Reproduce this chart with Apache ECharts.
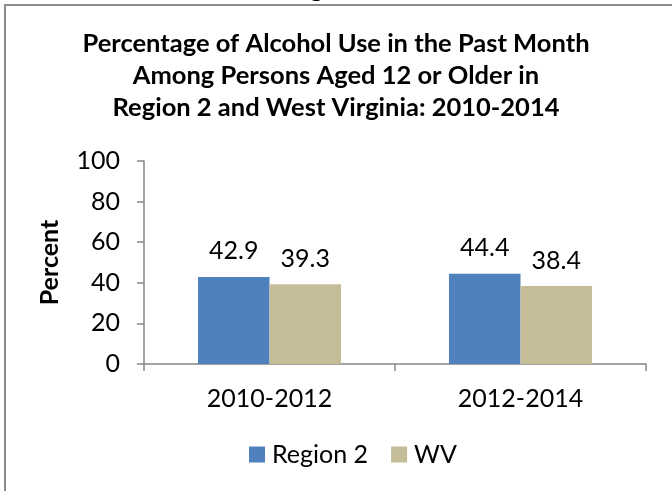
<!DOCTYPE html>
<html>
<head>
<meta charset="utf-8">
<script src="https://cdn.jsdelivr.net/npm/echarts@6/dist/echarts.min.js"></script>
<style>
  html, body { margin: 0; padding: 0; background: #fff; }
  #chart { width: 672px; height: 491px; }
</style>
</head>
<body>
<div id="chart"></div>
<script>
// data
const categories = ['2010-2012', '2012-2014'];
const region2 = [42.9, 44.4];
const wv = [39.3, 38.4];
const seriesNames = ['Region 2', 'WV'];
const titleLines = [
    'Percentage of Alcohol Use in the Past Month',
    'Among Persons Aged 12 or Older in',
    'Region 2 and West Virginia: 2010-2014'
];

const FONT = 'Lato, "Open Sans", sans-serif';
const axisGray = '#868686';

const chart = echarts.init(document.getElementById('chart'));

const barLabel = {
    show: true,
    position: 'top',
    distance: 13,
    color: '#000',
    fontFamily: FONT,
    fontSize: 25
};

chart.setOption({
    animation: false,
    backgroundColor: '#fff',
    title: {
        text: titleLines.join('\n'),
        left: 'center',
        top: 23,
        textStyle: {
            fontFamily: FONT,
            fontWeight: 'bold',
            fontSize: 25.5,
            lineHeight: 32,
            color: '#000'
        }
    },
    legend: {
        data: seriesNames,
        left: 244,
        top: 437,
        icon: 'rect',
        itemWidth: 16,
        itemHeight: 16,
        itemGap: 23,
        textStyle: { fontFamily: FONT, fontSize: 25, color: '#000', padding: [0, 0, 0, 2] }
    },
    grid: { left: 144, right: 26, top: 161, bottom: 127 },
    xAxis: {
        type: 'category',
        data: categories,
        axisLine: { lineStyle: { color: axisGray, width: 1.5 } },
        axisTick: { show: true, length: 7, lineStyle: { color: axisGray, width: 1.5 } },
        axisLabel: { color: '#000', fontFamily: FONT, fontSize: 25, margin: 22 }
    },
    yAxis: {
        type: 'value',
        min: 0,
        max: 100,
        interval: 20,
        name: 'Percent',
        nameLocation: 'middle',
        nameGap: 82,
        nameTextStyle: { fontFamily: FONT, fontWeight: 'bold', fontSize: 25, color: '#000' },
        axisLine: { show: true, lineStyle: { color: axisGray, width: 1.5 } },
        axisTick: { show: true, length: 7, lineStyle: { color: axisGray, width: 1.5 } },
        axisLabel: { color: '#000', fontFamily: FONT, fontSize: 25, margin: 24 },
        splitLine: { show: false }
    },
    series: [
        {
            name: seriesNames[0],
            type: 'bar',
            data: region2,
            barGap: '0%',
            barCategoryGap: '43%',
            itemStyle: { color: '#4F81BD' },
            label: barLabel
        },
        {
            name: seriesNames[1],
            type: 'bar',
            data: wv,
            itemStyle: { color: '#C4BD97' },
            label: barLabel
        }
    ],
    graphic: [
        {
            type: 'rect',
            shape: { x: 5, y: 5, width: 900, height: 700 },
            style: { fill: 'none', stroke: '#8a8a8a', lineWidth: 2 }
        },
        {
            // heading above the chart frame, cut off by the crop
            type: 'text',
            x: 330,
            y: 1,
            style: {
                text: 'Region 2',
                fontFamily: FONT,
                fontWeight: 'bold',
                fontSize: 25,
                fill: '#000',
                align: 'center',
                verticalAlign: 'bottom'
            }
        }
    ]
});
</script>
</body>
</html>
